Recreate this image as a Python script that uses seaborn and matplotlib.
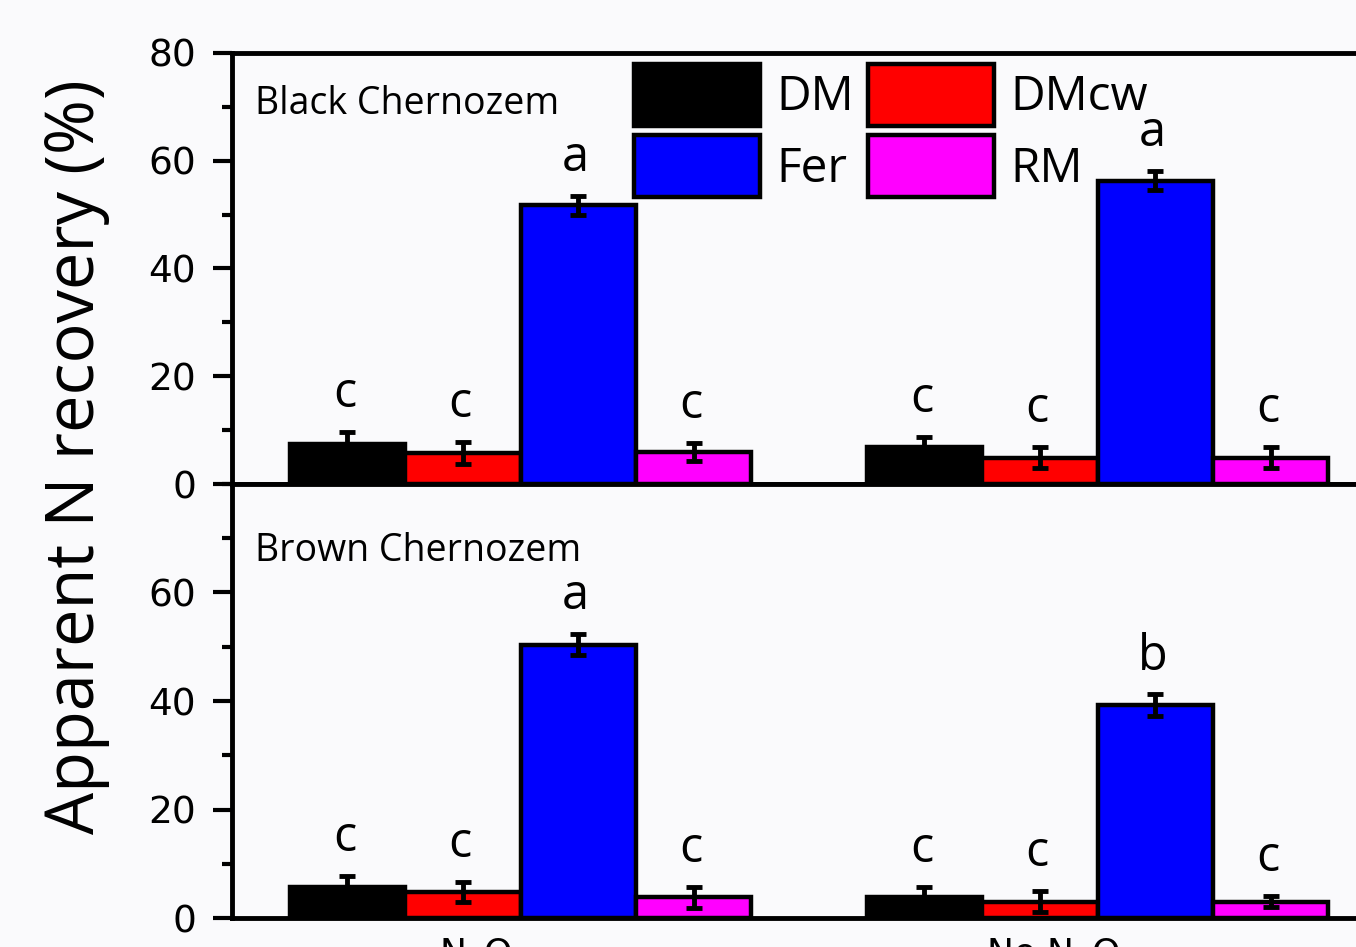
import matplotlib
matplotlib.use("Agg")
import matplotlib.pyplot as plt
import matplotlib.transforms as mtransforms
from matplotlib.patches import Patch
from matplotlib.ticker import MultipleLocator
import seaborn as sns
import pandas as pd

# ---- data -------------------------------------------------------------
soils = ["Black Chernozem", "Brown Chernozem"]
gas_groups = ["N$_2$O", "No N$_2$O"]
treatments = ["DM", "DMcw", "Fer", "RM"]
colors = ["#000000", "#FF0000", "#0000FF", "#FF00FF"]

# Apparent N recovery (%) per soil: rows = gas group, cols = treatment
black_mean = [[7.4, 5.8, 51.7, 6.0],
              [6.9, 4.9, 56.3, 4.9]]
black_err = [[2.3, 2.0, 1.8, 1.7],
             [1.9, 2.0, 1.8, 2.0]]
brown_mean = [[5.8, 4.8, 50.4, 3.8],
              [3.8, 3.0, 39.2, 3.0]]
brown_err = [[1.9, 1.9, 2.0, 2.0],
             [2.0, 1.9, 2.0, 1.0]]
black_letters = [["c", "c", "a", "c"], ["c", "c", "a", "c"]]
brown_letters = [["c", "c", "a", "c"], ["c", "c", "b", "c"]]

means = [black_mean, brown_mean]
errs = [black_err, brown_err]
letters = [black_letters, brown_letters]

rows = []
for s, soil in enumerate(soils):
    for g, gas in enumerate(gas_groups):
        for t, trt in enumerate(treatments):
            rows.append(dict(soil=soil, gas=gas, treatment=trt,
                             value=means[s][g][t], err=errs[s][g][t],
                             letter=letters[s][g][t]))
df = pd.DataFrame(rows)

# ---- style ------------------------------------------------------------
sns.set_style("ticks")
bg = "#FAFAFC"
plt.rcParams["font.family"] = ["DejaVu Sans"]
plt.rcParams["axes.linewidth"] = 3.5
plt.rcParams["text.color"] = "black"
plt.rcParams["axes.edgecolor"] = "black"
plt.rcParams["xtick.color"] = "black"
plt.rcParams["ytick.color"] = "black"
plt.rcParams["axes.labelcolor"] = "black"

W, H = 1356, 947
fig = plt.figure(figsize=(W / 100, H / 100), dpi=100, facecolor=bg)

left_px, right_px = 232, 1386
axes_px = [(53, 484), (484, 918)]
axs = []
for top_px, bot_px in axes_px:
    ax = fig.add_axes([left_px / W, 1 - bot_px / H,
                       (right_px - left_px) / W, (bot_px - top_px) / H])
    ax.set_facecolor(bg)
    axs.append(ax)

text_font = ["Open Sans", "DejaVu Sans"]

for s, (ax, soil) in enumerate(zip(axs, soils)):
    sub = df[df.soil == soil]
    sns.barplot(data=sub, x="gas", y="value", hue="treatment",
                order=gas_groups, hue_order=treatments, palette=colors,
                saturation=1, edgecolor="black", linewidth=3.2,
                errorbar=None, width=0.8, legend=False, ax=ax, zorder=2)
    bar_sets = list(ax.containers)
    for t, cont in enumerate(bar_sets):
        for g, bar in enumerate(cont.patches):
            x = bar.get_x() + bar.get_width() / 2
            y = bar.get_height()
            row = sub[(sub.treatment == treatments[t]) & (sub.gas == gas_groups[g])].iloc[0]
            ax.errorbar(x, y, yerr=row.err, fmt="none", ecolor="black",
                        elinewidth=3.5, capsize=6, capthick=3.5, zorder=4)
            ax.text(x - 0.005, y + row.err + 4.6, row.letter, ha="center",
                    va="baseline", fontsize=35, family=text_font)

    ax.set_xlim(-0.5, 1.5)
    ax.set_ylim(0, 80)
    ax.set_xlabel("")
    ax.set_ylabel("")
    ax.yaxis.set_major_locator(MultipleLocator(20))
    ax.yaxis.set_minor_locator(MultipleLocator(10))
    ax.tick_params(axis="y", which="major", direction="out", length=14,
                   width=3, labelsize=27, pad=12)
    ax.tick_params(axis="y", which="minor", direction="out", length=7,
                   width=3)
    ax.tick_params(axis="x", length=0, labelsize=26, pad=13)
    for sp in ax.spines.values():
        sp.set_linewidth(3.5)
        sp.set_zorder(5)

# top panel: no x labels; bottom panel: hide the 80 label (shared edge)
axs[0].set_xticklabels([])
axs[1].set_yticks([0, 20, 40, 60])
axs[1].yaxis.set_minor_locator(MultipleLocator(10))
offset = mtransforms.ScaledTranslation(-0.45, 0, fig.dpi_scale_trans)
for lab in axs[1].get_xticklabels():
    lab.set_transform(lab.get_transform() + offset)

# panel titles
fig.text(255 / W, 1 - 114 / H, soils[0], fontsize=27, va="baseline",
         ha="left", family=text_font)
fig.text(255 / W, 1 - 561 / H, soils[1], fontsize=27, va="baseline",
         ha="left", family=text_font)

# legend: two columns, DM / Fer then DMcw / RM
order = [0, 2, 1, 3]
handles = [Patch(facecolor=colors[i], edgecolor="black", linewidth=3.2)
           for i in order]
labels = [treatments[i] for i in order]
axs[0].legend(handles, labels, ncol=2, loc="upper left",
              bbox_to_anchor=(634 / W, 1 - 64 / H),
              bbox_transform=fig.transFigure, frameon=False, borderpad=0,
              borderaxespad=0, handlelength=2.62, handleheight=1.6,
              handletextpad=0.35, columnspacing=0.3, labelspacing=0.2,
              prop=dict(family=text_font, size=34.5))

# shared y label
fig.text(76 / W, 1 - 457 / H, "Apparent N recovery (%)", rotation=90,
         ha="center", va="center", fontsize=48, family=text_font)

fig.savefig("out.png", dpi=100, facecolor=bg)
